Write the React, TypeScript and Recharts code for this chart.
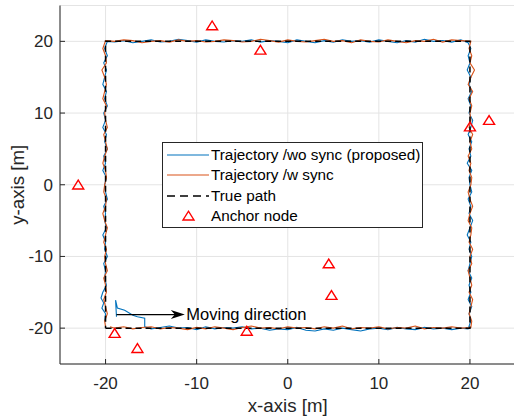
import React from 'react';
import {
  ComposedChart,
  Line,
  Scatter,
  XAxis,
  YAxis,
  CartesianGrid,
  ReferenceLine,
  Legend,
} from 'recharts';

const FONT = '"Liberation Sans", Arial, Helvetica, sans-serif';
const AXIS_COLOR = '#262626';
const BLUE = '#0072BD';
const ORANGE = '#D95319';

const xTicks = [-20, -10, 0, 10, 20];
const yTicks = [-20, -10, 0, 10, 20];

// estimated positions
const trajWoSync = [
  [-18.8, -18.4], [-18.9, -16.1], [-18.7, -17.2], [-17.9, -17.5], [-17.0, -18.2], [-16.5, -18.4], [-15.7, -18.6], [-15.7, -19.8],
  [-15, -20.1], [-14, -19.9], [-13, -19.7], [-12, -20.0], [-11, -19.9], [-10, -20.2], [-9, -19.8], [-8, -20.1], [-7, -19.9],
  [-6, -20.0], [-5, -19.8], [-4, -20.1], [-3, -20.0], [-2, -20.3], [-1, -20.1], [0, -20.2], [1, -19.9], [2, -20.3], [3, -20.4],
  [4, -20.1], [5, -20.3], [6, -20.0], [7, -20.2], [8, -20.4], [9, -20.1], [10, -20.0], [11, -20.2], [12, -19.9], [13, -20.1],
  [14, -20.2], [15, -19.9], [16, -20.1], [17, -20.0], [18, -20.2], [19, -20.0], [19.8, -20.1],
  [20.1, -19], [19.9, -18], [20.2, -17], [19.8, -16], [20.1, -15], [19.9, -14], [20.2, -13], [19.8, -12], [20.0, -11],
  [20.2, -10], [19.9, -9], [20.1, -8], [19.7, -7], [20.0, -6], [20.3, -5], [19.9, -4], [20.1, -3], [19.8, -2], [20.2, -1],
  [20.0, 0], [19.9, 1], [20.2, 2], [19.7, 3], [20.1, 4], [19.9, 5], [20.2, 6], [19.8, 7], [20.1, 8], [20.3, 9], [19.9, 10],
  [20.1, 11], [19.8, 12], [20.2, 13], [19.9, 14], [20.1, 15], [19.7, 16], [20.0, 17], [19.8, 18], [20.1, 19], [19.8, 19.8],
  [19, 20.2], [18, 19.9], [17, 20.1], [16, 20.0], [15, 20.3], [14, 19.9], [13, 20.1], [12, 19.8], [11, 20.0], [10, 20.2],
  [9, 19.9], [8, 20.1], [7, 20.0], [6, 20.2], [5, 19.9], [4, 20.1], [3, 19.8], [2, 20.0], [1, 20.2], [0, 19.8], [-1, 20.0],
  [-2, 20.1], [-3, 19.9], [-4, 20.2], [-5, 20.0], [-6, 20.1], [-7, 19.9], [-8, 20.0], [-9, 20.2], [-10, 19.9], [-11, 20.1],
  [-12, 20.3], [-13, 20.0], [-14, 19.9], [-15, 20.2], [-16, 20.0], [-17, 19.8], [-18, 20.1], [-19, 19.9], [-19.8, 20.0],
  [-20.1, 19], [-19.8, 18], [-20.2, 17], [-19.9, 16], [-20.1, 15], [-20.3, 14], [-19.9, 13], [-20.1, 12], [-19.8, 11],
  [-20.2, 10], [-20.0, 9], [-20.3, 8], [-19.9, 7], [-20.1, 6], [-19.8, 5], [-20.2, 4], [-20.0, 3], [-20.3, 2], [-19.9, 1],
  [-20.1, 0], [-20.0, -1], [-19.8, -2], [-20.2, -3], [-20.0, -4], [-20.1, -5], [-19.9, -6], [-20.3, -7], [-20.0, -8],
  [-20.1, -9], [-19.8, -10], [-20.2, -11], [-20.0, -12], [-20.1, -13], [-19.9, -14], [-20.3, -15], [-20.5, -15.8],
  [-20.2, -16.5], [-20.4, -17.2], [-20.0, -18], [-20.1, -19],
];

const trajWSync = [
  [-19.5, -19.8], [-19, -20.0], [-18, -19.8], [-17, -20.1], [-16, -19.9], [-15, -19.8], [-14, -20.1], [-13, -19.9],
  [-12, -20.0], [-11, -20.2], [-10, -19.9], [-9, -20.1], [-8, -19.8], [-7, -20.0], [-6, -20.2], [-5, -19.9], [-4, -19.7],
  [-3, -20.0], [-2, -19.9], [-1, -20.1], [0, -19.8], [1, -20.0], [2, -19.9], [3, -20.1], [4, -19.8], [5, -20.0], [6, -19.7],
  [7, -20.1], [8, -19.9], [9, -20.0], [10, -19.8], [11, -20.1], [12, -19.9], [13, -20.0], [14, -19.7], [15, -20.1],
  [16, -19.9], [17, -20.0], [18, -19.8], [19, -20.0], [20.1, -19.9],
  [20.2, -19], [19.9, -18], [20.1, -17], [20.3, -16], [19.9, -15], [20.2, -14], [20.0, -13], [19.8, -12], [20.2, -11],
  [20.0, -10], [20.3, -9], [19.9, -8], [20.1, -7], [20.2, -6], [19.8, -5], [20.0, -4], [20.3, -3], [20.0, -2], [19.8, -1],
  [20.1, 0], [20.2, 1], [19.9, 2], [20.1, 3], [19.8, 4], [20.2, 5], [20.0, 6], [20.3, 7], [19.9, 8], [20.1, 9], [20.0, 10],
  [20.2, 11], [19.9, 12], [20.3, 13], [19.8, 14], [20.1, 15], [20.5, 16], [20.0, 17], [20.2, 18], [19.9, 19], [20.1, 20],
  [19, 20.1], [18, 20.2], [17, 19.9], [16, 20.3], [15, 20.0], [14, 20.1], [13, 19.8], [12, 20.0], [11, 20.2], [10, 19.9],
  [9, 20.0], [8, 20.2], [7, 19.8], [6, 20.1], [5, 20.0], [4, 20.3], [3, 20.1], [2, 19.9], [1, 20.0], [0, 20.2], [-1, 19.9],
  [-2, 20.1], [-3, 20.3], [-4, 20.0], [-5, 19.9], [-6, 20.1], [-7, 20.2], [-8, 20.0], [-9, 19.9], [-10, 20.1], [-11, 20.0],
  [-12, 20.2], [-13, 19.9], [-14, 20.1], [-15, 20.0], [-16, 19.8], [-17, 20.1], [-18, 20.2], [-19, 20.0], [-20, 20.1],
  [-20.3, 19], [-20.0, 18], [-19.9, 17], [-20.4, 16], [-20.1, 15], [-19.9, 14], [-20.1, 13], [-20.3, 12], [-19.9, 11],
  [-20.1, 10], [-20.0, 9], [-19.8, 8], [-20.2, 7], [-20.0, 6], [-19.8, 5], [-20.1, 4], [-20.3, 3], [-20.0, 2], [-19.9, 1],
  [-20.1, 0], [-20.2, -1], [-19.9, -2], [-20.0, -3], [-20.3, -4], [-20.1, -5], [-19.8, -6], [-20.0, -7], [-20.2, -8],
  [-19.9, -9], [-20.1, -10], [-20.0, -11], [-19.8, -12], [-20.2, -13], [-20.0, -14], [-19.9, -15], [-20.2, -16],
  [-20.0, -17], [-19.8, -18], [-20.1, -19], [-20.0, -19.8],
];

const truePath = [[-20, -20], [20, -20], [20, 20], [-20, 20], [-20, -20]];

const anchorNodes = [
  [-8.3, 22.2], [-3.0, 18.8], [20.0, 8.1], [22.1, 9.0], [-23.0, 0.0],
  [4.5, -11.0], [4.8, -15.4], [-19.0, -20.7], [-16.5, -22.8], [-4.5, -20.4],
];

const arrowStart = [-18.8, -18.1];
const arrowEnd = [-11.3, -18.1];
const arrowText = 'Moving direction';

const toPts = (arr: number[][]) => arr.map(([x, y]) => ({ x, y }));

const Triangle = (props: any) => {
  const { cx, cy } = props;
  if (cx == null || cy == null) return null;
  return (
    <polygon
      points={`${cx - 5.5},${cy + 4.2} ${cx + 5.5},${cy + 4.2} ${cx},${cy - 4.6}`}
      fill="none"
      stroke="#FF0000"
      strokeWidth={1.4}
    />
  );
};

const ArrowShape = (props: any) => {
  const { x1, y1, x2, y2 } = props;
  if (x1 == null) return null;
  return (
    <g>
      <line x1={x1} y1={y1} x2={x2 - 8} y2={y2} stroke="#000" strokeWidth={1.2} />
      <polygon points={`${x2},${y2} ${x2 - 14},${y2 - 4.5} ${x2 - 10},${y2} ${x2 - 14},${y2 + 4.5}`} fill="#000" />
      <text x={x2 + 1.5} y={y2} dy="0.35em" fontSize={16.5} fontFamily={FONT} fill="#000">
        {arrowText}
      </text>
    </g>
  );
};

const legendItems = [
  { label: 'Trajectory /wo sync (proposed)', kind: 'line', color: BLUE },
  { label: 'Trajectory /w sync', kind: 'line', color: ORANGE },
  { label: 'True path', kind: 'dash', color: '#000' },
  { label: 'Anchor node', kind: 'marker', color: '#FF0000' },
];

const LegendBox = () => (
  <div
    style={{
      width: 259,
      height: 82,
      border: `1px solid ${AXIS_COLOR}`,
      background: '#fff',
      fontFamily: FONT,
      fontSize: 15.3,
      color: '#000',
      paddingTop: 2,
      boxSizing: 'content-box',
    }}
  >
    {legendItems.map((it) => (
      <div key={it.label} style={{ display: 'flex', alignItems: 'center', height: 20.3 }}>
        <svg width={48} height={20} style={{ display: 'block' }}>
          {it.kind === 'line' && <line x1={4} x2={46} y1={10} y2={10} stroke={it.color} strokeWidth={1.2} />}
          {it.kind === 'dash' && (
            <line x1={4} x2={46} y1={10} y2={10} stroke={it.color} strokeWidth={1.5} strokeDasharray="8 5" />
          )}
          {it.kind === 'marker' && (
            <polygon points="20,14 31,14 25.5,5.2" fill="none" stroke={it.color} strokeWidth={1.4} />
          )}
        </svg>
        <span style={{ whiteSpace: 'nowrap' }}>{it.label}</span>
      </div>
    ))}
  </div>
);

const YLabel = (props: any) => {
  const vb = props.viewBox || {};
  const x = (vb.x ?? 0) + 17;
  const y = (vb.y ?? 0) + (vb.height ?? 0) / 2;
  return (
    <text
      x={x}
      y={y}
      transform={`rotate(-90, ${x}, ${y})`}
      textAnchor="middle"
      dy="0.35em"
      fontSize={18.7}
      fontFamily={FONT}
      fill={AXIS_COLOR}
    >
      y-axis [m]
    </text>
  );
};

export default function App() {
  const tickStyle = { fontSize: 17, fill: AXIS_COLOR, fontFamily: FONT };
  return (
    <div style={{ position: 'fixed', left: 0, top: 0, width: 514, height: 420, overflow: 'hidden', background: '#fff' }}>
      <ComposedChart width={520} height={420} margin={{ top: 5.5, right: 4.5, left: 0, bottom: 0 }}>
        <CartesianGrid stroke="#e4e4e4" strokeWidth={1} />
        <XAxis
          xAxisId={0}
          type="number"
          dataKey="x"
          domain={[-25, 25]}
          ticks={xTicks}
          height={56}
          allowDataOverflow
          stroke={AXIS_COLOR}
          tickSize={-5}
          tickMargin={18}
          tick={tickStyle}
          label={{ value: 'x-axis [m]', position: 'insideBottom', offset: 8.5, fontSize: 18.7, fill: AXIS_COLOR, fontFamily: FONT }}
        />
        <XAxis
          xAxisId="top"
          orientation="top"
          type="number"
          domain={[-25, 25]}
          ticks={xTicks}
          height={0}
          mirror
          tick={false}
          tickSize={5}
          stroke={AXIS_COLOR}
          allowDataOverflow
        />
        <YAxis
          yAxisId={0}
          type="number"
          dataKey="y"
          domain={[-25, 25]}
          ticks={yTicks}
          width={60}
          allowDataOverflow
          stroke={AXIS_COLOR}
          tickSize={-5}
          tickMargin={12}
          tick={tickStyle}
          label={<YLabel />}
        />
        <YAxis
          yAxisId="right"
          orientation="right"
          type="number"
          domain={[-25, 25]}
          ticks={yTicks}
          width={0}
          mirror
          tick={false}
          tickSize={5}
          stroke={AXIS_COLOR}
          allowDataOverflow
        />
        <Line
          data={toPts(trajWoSync)}
          dataKey="y"
          type="linear"
          stroke={BLUE}
          strokeWidth={1.1}
          dot={false}
          isAnimationActive={false}
        />
        <Line
          data={toPts(trajWSync)}
          dataKey="y"
          type="linear"
          stroke={ORANGE}
          strokeWidth={1.1}
          dot={false}
          isAnimationActive={false}
        />
        <Line
          data={toPts(truePath)}
          dataKey="y"
          type="linear"
          stroke="#000"
          strokeWidth={1.5}
          strokeDasharray="6 4"
          dot={false}
          isAnimationActive={false}
        />
        <Scatter data={toPts(anchorNodes)} dataKey="y" shape={<Triangle />} isAnimationActive={false} />
        <ReferenceLine
          segment={[
            { x: arrowStart[0], y: arrowStart[1] },
            { x: arrowEnd[0], y: arrowEnd[1] },
          ]}
          shape={<ArrowShape />}
          ifOverflow="visible"
        />
        <Legend
          layout="horizontal"
          verticalAlign="middle"
          align="center"
          content={() => <LegendBox />}
          wrapperStyle={{ left: 162, top: 142, width: 261, height: 84 }}
        />
      </ComposedChart>
    </div>
  );
}
